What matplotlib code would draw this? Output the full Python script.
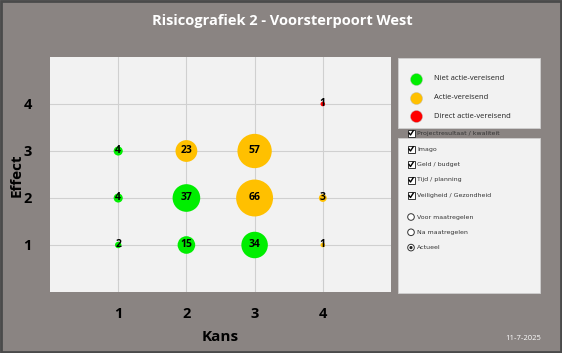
import matplotlib
matplotlib.use("Agg")
import matplotlib.pyplot as plt
import matplotlib.patches as patches

# risk data: kans (x), effect (y), aantal, status
kans = [1, 1, 1, 2, 2, 2, 3, 3, 3, 4, 4, 4]
effect = [3, 2, 1, 3, 2, 1, 3, 2, 1, 4, 2, 1]
aantal = [4, 4, 2, 23, 37, 15, 57, 66, 34, 1, 3, 1]
status = ["niet", "niet", "niet", "actie", "niet", "niet",
          "actie", "actie", "niet", "direct", "actie", "actie"]

kleuren = {"niet": "#00ee00", "actie": "#ffc000", "direct": "#ff0000"}
legend_labels = ["Niet actie-vereisend", "Actie-vereisend", "Direct actie-vereisend"]
checkbox_labels = ["Imago", "Geld / budget", "Tijd / planning", "Veiligheid / Gezondheid"]
radio_labels = ["Voor maatregelen", "Na maatregelen", "Actueel"]
ticks = [1, 2, 3, 4]

bg = "#8a8482"
W, H = 562, 353
fig = plt.figure(figsize=(W / 100, H / 100), dpi=100, facecolor=bg)
font = "Open Sans"

# main plot area
ax = fig.add_axes([50 / W, 1 - 292 / H, 341 / W, 235 / H])
ax.set_facecolor("#f2f2f2")
ax.set_xlim(0, 5)
ax.set_ylim(0, 5)
ax.set_xticks(ticks)
ax.set_yticks(ticks)
ax.grid(True, color="#d0d0d0", lw=0.8)
ax.set_axisbelow(True)
ax.tick_params(length=0, labelsize=10.5)
ax.tick_params(axis="x", pad=11)
ax.tick_params(axis="y", pad=13)
for lab in ax.get_xticklabels() + ax.get_yticklabels():
    lab.set_fontweight("bold")
    lab.set_fontfamily(font)
for s in ax.spines.values():
    s.set_visible(False)

ax.scatter(kans, effect, s=[10.7 * a for a in aantal],
           c=[kleuren[st] for st in status], zorder=3, linewidths=0)
for x, y, a in zip(kans, effect, aantal):
    ax.text(x, y, str(a), ha="center", va="center", fontsize=7.5,
            fontweight="bold", family=font, zorder=4)

ax.set_xlabel("Kans", fontsize=11, fontweight="bold", family=font)
ax.set_ylabel("Effect", fontsize=11, fontweight="bold", family=font)
ax.xaxis.set_label_coords((220 - 50) / 341, -(337 - 292) / 235)
ax.yaxis.set_label_coords(-(50 - 17) / 341, (292 - 175) / 235)
ax.xaxis.label.set_va("center")
ax.yaxis.label.set_va("center")

# overlay in pixel coordinates for decorations
ov = fig.add_axes([0, 0, 1, 1], facecolor="none")
ov.set_xlim(0, W)
ov.set_ylim(H, 0)
ov.axis("off")

ov.add_patch(patches.Rectangle((1, 1), W - 2, H - 2, fill=False, ec="#4a4a4a", lw=2))
ov.text(282, 21, "Risicografiek 2 - Voorsterpoort West", ha="center", va="center",
        color="white", fontsize=10.5, fontweight="bold", family=font)
ov.text(523, 338, "11-7-2025", ha="center", va="center", color="white",
        fontsize=5.5, family=font)

# legend panel
ov.add_patch(patches.Rectangle((398, 58), 142, 70, fc="#f2f2f2", ec="#cfcfcf", lw=0.6))
for i, (lab, key) in enumerate(zip(legend_labels, ["niet", "actie", "direct"])):
    y = 79 + i * 18.5
    ov.scatter([416], [y], s=75, c=kleuren[key], edgecolors="#bbbbbb", linewidths=0.3)
    ov.text(434, y, lab, va="center", fontsize=5.5, family=font, color="#222222")

# options panel
ov.add_patch(patches.Rectangle((398, 138), 142, 155, fc="#f2f2f2", ec="#cfcfcf", lw=0.6))


def checkbox(x, y, label):
    ov.add_patch(patches.Rectangle((x - 3.5, y - 3.5), 7, 7, fc="white", ec="#333333", lw=0.7))
    ov.plot([x - 2, x - 0.5, x + 2.2], [y, y + 2, y - 2.2], color="black", lw=1.0)
    ov.text(x + 6, y, label, va="center", fontsize=4.5, family="DejaVu Sans", color="#333333")


checkbox(411, 133, "Projectresultaat / kwaliteit")
for i, lab in enumerate(checkbox_labels):
    checkbox(411, 149 + i * 15.5, lab)

for i, lab in enumerate(radio_labels):
    y = 217 + i * 15.3
    ov.add_patch(patches.Circle((411, y), 3.3, fc="white", ec="#333333", lw=0.7))
    if lab == "Actueel":
        ov.add_patch(patches.Circle((411, y), 1.6, fc="#222222", ec="none"))
    ov.text(417, y, lab, va="center", fontsize=4.5, family="DejaVu Sans", color="#333333")

fig.savefig("out.png", dpi=100, facecolor=bg)
